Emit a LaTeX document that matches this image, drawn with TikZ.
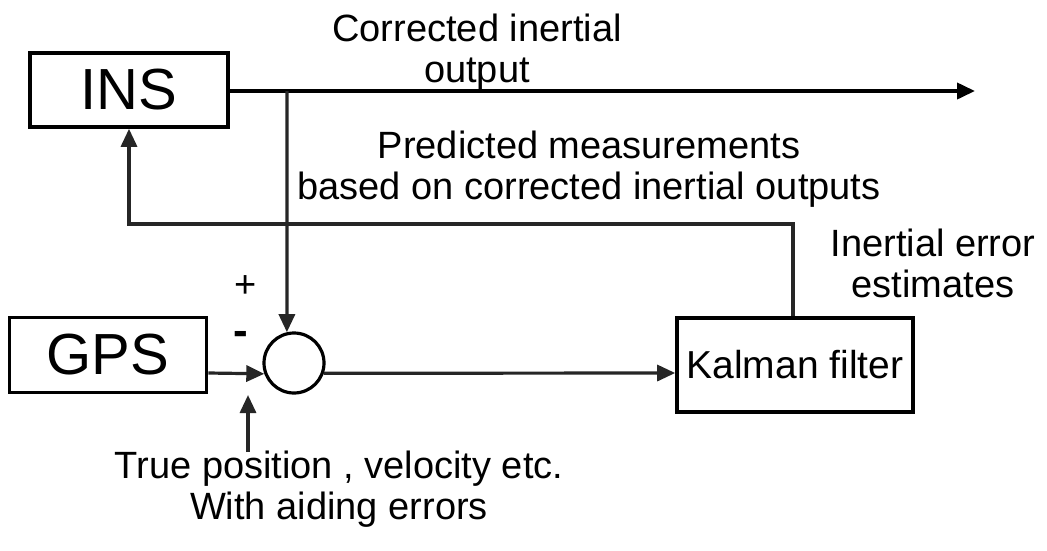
\documentclass[tikz,border=0pt]{standalone}
\usepackage{fontspec}
\setmainfont{Liberation Sans}
\usetikzlibrary{arrows.meta}
\begin{document}
\begin{tikzpicture}[x=1pt,y=-1pt,
  blk/.style={draw, line width=3.6pt, inner sep=0pt, font=\fontsize{58}{60}\selectfont},
  lbl/.style={align=center, inner sep=0pt, font=\fontsize{38}{41}\selectfont},
  wire/.style={line width=3.2pt, draw=black!85},
  arr/.style={wire, -{Triangle[length=18pt,width=16pt]}}]
\useasboundingbox (0,0) rectangle (1047,550);
\fill[white] (0,0) rectangle (1047,550);
% blocks
\node[blk, minimum width=198pt, minimum height=74pt] (ins) at (129,90) {INS};
\node[blk, minimum width=197pt, minimum height=75pt] (gps) at (108,355) {GPS};
\node[blk, minimum width=236pt, minimum height=94pt, font=\fontsize{39}{42}\selectfont] (kf) at (795,365) {Kalman filter};
\node[draw, circle, line width=3.2pt, minimum size=60pt, inner sep=0pt] (sum) at (294,363) {};
% labels
\node[lbl] (l1) at (477,52) {Corrected inertial\\output};
\node[lbl] (l2) at (589,169) {Predicted measurements\\based on corrected inertial outputs};
\node[lbl] (l3) at (933,263) {Inertial error\\estimates};
\node[lbl] (l4) at (339,489) {True position , velocity etc.\\With aiding errors};
\node[lbl] (plus) at (246,287) {+};
\node[lbl, font=\fontsize{44}{44}\selectfont\bfseries] (minus) at (241,338) {-};
% coordinates
\coordinate (out) at (975,91);
\coordinate (j1) at (287,91);
\coordinate (fb) at (793,224);
\coordinate (up) at (248,395);
% connectors
\draw[arr, draw=black, line width=3.8pt] (ins.east |- out) -- (out);
\draw[arr] (j1) -- (sum.103.5);
\draw[arr] (gps.east |- 0,373) -- (sum.-160.5);
\draw[arr] (sum.-19.5) -- (kf.west |- 0,373);
\draw[arr] (kf.north -| fb) -- (fb) -| (ins.south);
\draw[arr] (up |- 0,452) -- (up);
\end{tikzpicture}
\end{document}
